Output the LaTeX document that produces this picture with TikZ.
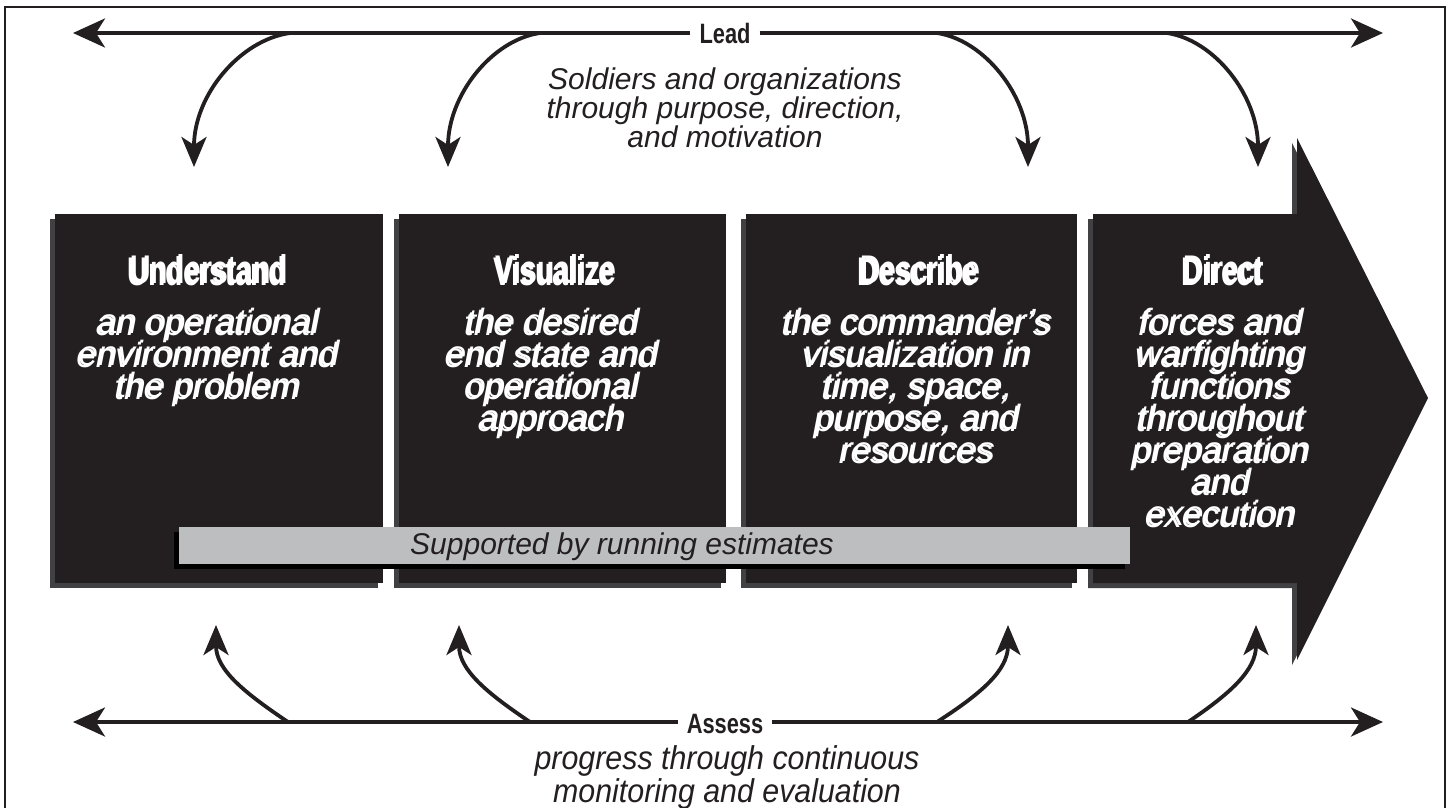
\documentclass[tikz,border=0pt]{standalone}
\usepackage{fontspec}
\setmainfont{Liberation Sans}
\usetikzlibrary{arrows.meta,calc}
\definecolor{ink}{HTML}{231F20}
\definecolor{boxshadow}{HTML}{414042}
\definecolor{txtshadow}{HTML}{545557}
\definecolor{barfill}{HTML}{BCBEC0}
\newsavebox{\shbox}
\newcommand{\shtext}[1]{\sbox\shbox{#1}\makebox[0pt][l]{\hspace*{-2.2pt}\raisebox{-2.2pt}{\color{txtshadow}\usebox\shbox}}\usebox\shbox}
\newcommand{\lines}[1]{\parbox[t]{330pt}{\centering\lineskiplimit=-100pt\lineskip=0pt #1}}
\begin{document}
\begin{tikzpicture}[x=1pt,y=-1pt,
  conn/.style={draw=ink, line width=3.8pt},
  bigtip/.style={-{Stealth[length=32pt,width=29pt,inset=9pt]}},
  curvetip/.style={-{Stealth[length=30pt,width=25pt,inset=8pt]}},
  boxbody/.style={fill=ink},
  boxshade/.style={fill=boxshadow},
  hdr/.style={inner sep=0pt, anchor=base, text=white, font=\fontsize{40}{40}\selectfont\bfseries},
  bodytxt/.style={inner sep=0pt, anchor=north, text=white, font=\fontsize{35}{32}\selectfont\itshape},
  linelabel/.style={inner ysep=0pt, inner xsep=9pt, anchor=base, text=ink, font=\fontsize{28}{28}\selectfont\bfseries},
  toptxt/.style={inner sep=0pt, anchor=north, align=center, text=ink, font=\fontsize{30}{29}\selectfont\itshape},
  bottxt/.style={inner sep=0pt, anchor=north, text=ink, font=\fontsize{33}{30}\selectfont\itshape},
  bartxt/.style={inner sep=0pt, anchor=base, text=ink, font=\fontsize{30}{30}\selectfont\itshape}
]
\useasboundingbox (0,0) rectangle (1451,808);
\clip (0,0) rectangle (1451,808);
\fill[white] (0,0) rectangle (1451,808);
\draw[line width=2.5pt, draw=ink] (5,7) rectangle (1445,840);

% ---- boxes with shadows
\fill[boxshade] (50,219) rectangle (378,588);
\fill[boxbody] (55,214) rectangle (383,583);
\fill[boxshade] (394,219) rectangle (721,588);
\fill[boxbody] (399,214) rectangle (726,583);
\fill[boxshade] (741,219) rectangle (1072,588);
\fill[boxbody] (746,214) rectangle (1077,583);
\fill[boxshade] (1088,219) -- (1292,219) -- (1292,143) -- (1423,403) -- (1292,665) -- (1292,588) -- (1088,588) -- cycle;
\fill[boxbody] (1093,214) -- (1297,214) -- (1297,138) -- (1428,398) -- (1297,660) -- (1297,583) -- (1093,583) -- cycle;

% ---- running estimates bar
\fill[black] (174,532) rectangle (1125,569);
\fill[barfill] (179,527) rectangle (1130,564);
\node[bartxt] (est) at (622,554) {Supported by running estimates};

% ---- box texts
\node[hdr] (h1) at (209,283) {\shtext{\scalebox{0.71}[1]{Understand}}};
\node[hdr] (h2) at (556,283) {\shtext{\scalebox{0.71}[1]{Visualize}}};
\node[hdr] (h3) at (920,283) {\shtext{\scalebox{0.71}[1]{Describe}}};
\node[hdr] (h4) at (1224,283) {\shtext{\scalebox{0.71}[1]{Direct}}};

\node[bodytxt] (t1) at (209,308) {\shtext{\lines{an operational\\environment and\\the problem}}};
\node[bodytxt] (t2) at (553,308) {\shtext{\lines{the desired\\end state and\\operational\\approach}}};
\node[bodytxt] (t3) at (918,308) {\shtext{\lines{the commander’s\\visualization in\\time, space,\\purpose, and\\resources}}};
\node[bodytxt] (t4) at (1222,308) {\shtext{\lines{forces and\\warfighting\\functions\\throughout\\preparation\\and\\execution}}};

% ---- Lead line
\node[linelabel] (lead) at (725,44) {\scalebox{0.78}[1]{Lead}};
\coordinate (leadL) at (73,33);
\coordinate (leadR) at (1383,33);
\draw[conn, bigtip] (lead.west |- leadL) -- (leadL);
\draw[conn, bigtip] (lead.east |- leadR) -- (leadR);
\node[toptxt] (leadtxt) at (725,68) {Soldiers and organizations\\through purpose, direction,\\and motivation};

\coordinate (ls1) at (290,33); \coordinate (lt1) at (194,167);
\coordinate (ls2) at (540,33); \coordinate (lt2) at (448,167);
\coordinate (ls3) at (937,33); \coordinate (lt3) at (1028,167);
\coordinate (ls4) at (1167,33); \coordinate (lt4) at (1258,167);
\draw[conn, curvetip] (ls1) .. controls (240,40) and (194,95) .. (lt1);
\draw[conn, curvetip] (ls2) .. controls (492,40) and (448,95) .. (lt2);
\draw[conn, curvetip] (ls3) .. controls (984,40) and (1028,95) .. (lt3);
\draw[conn, curvetip] (ls4) .. controls (1214,40) and (1258,95) .. (lt4);

% ---- Assess line
\node[linelabel] (assess) at (725,733) {\scalebox{0.78}[1]{Assess}};
\coordinate (asL) at (73,722);
\coordinate (asR) at (1383,722);
\draw[conn, bigtip] (assess.west |- asL) -- (asL);
\draw[conn, bigtip] (assess.east |- asR) -- (asR);
\node[bottxt] (asstxt) at (727,745) {\scalebox{0.92}[1]{\begin{tabular}{@{}c@{}}progress through continuous\\monitoring and evaluation\end{tabular}}};

\coordinate (as1) at (288,722); \coordinate (at1) at (216,625);
\coordinate (as2) at (530,722); \coordinate (at2) at (459,625);
\coordinate (as3) at (937,722); \coordinate (at3) at (1008,625);
\coordinate (as4) at (1188,722); \coordinate (at4) at (1256,625);
\draw[conn, curvetip] (as1) .. controls (245,693) and (216,670) .. (at1);
\draw[conn, curvetip] (as2) .. controls (487,693) and (459,670) .. (at2);
\draw[conn, curvetip] (as3) .. controls (982,693) and (1008,670) .. (at3);
\draw[conn, curvetip] (as4) .. controls (1231,693) and (1256,670) .. (at4);
\end{tikzpicture}
\end{document}
